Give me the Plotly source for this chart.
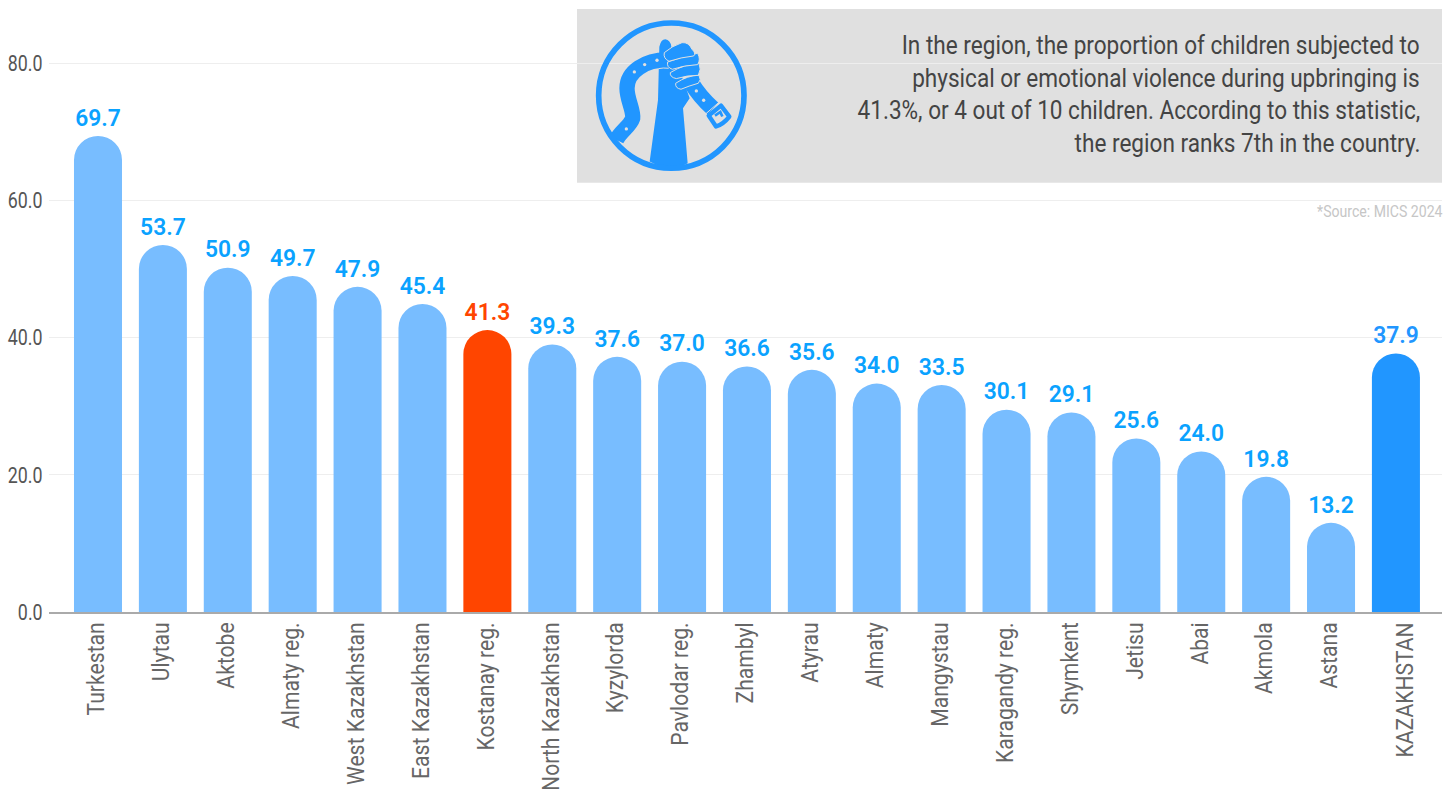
import base64
import plotly.graph_objects as go

categories = ["Turkestan", "Ulytau", "Aktobe", "Almaty reg.", "West Kazakhstan", "East Kazakhstan",
              "Kostanay reg.", "North Kazakhstan", "Kyzylorda", "Pavlodar reg.", "Zhambyl", "Atyrau",
              "Almaty", "Mangystau", "Karagandy reg.", "Shymkent", "Jetisu", "Abai", "Akmola", "Astana",
              "KAZAKHSTAN"]
value_labels = [69.7, 53.7, 50.9, 49.7, 47.9, 45.4, 41.3, 39.3, 37.6, 37.0, 36.6, 35.6, 34.0, 33.5, 30.1,
                29.1, 25.6, 24.0, 19.8, 13.2, 37.9]
# bar heights as drawn in the picture (they sit slightly under their printed labels)
bar_heights = [69.4, 53.5, 50.2, 49.0, 47.4, 44.9, 41.1, 39.0, 37.2, 36.5, 35.8, 35.3, 33.3, 33.1, 29.5,
               29.1, 25.3, 23.4, 19.7, 13.0, 37.7]
y_ticks = [0, 20, 40, 60, 80]
note_lines = ["In the region, the proportion of children subjected to",
              "physical or emotional violence during upbringing is",
              "41.3%, or 4 out of 10 children. According to this statistic,",
              "the region ranks 7th in the country."]
source_text = "*Source: MICS 2024"

BLUE = "#78BDFF"; RED = "#FF4500"; DARK = "#2196FF"; LABEL = "#0AA2FF"
FONT = "Roboto"
bar_colors = [RED if c.startswith("Kostanay") else DARK if c == "KAZAKHSTAN" else BLUE for c in categories]
text_colors = [RED if c.startswith("Kostanay") else DARK if c == "KAZAKHSTAN" else LABEL for c in categories]

W, H = 1450, 789
L, R, B = 49, 1442, 612.5
px = lambda x: (x - L) / (R - L)
py = lambda y: (B - y) / B

G = "#E0E0E0"
icon = f'''<svg xmlns="http://www.w3.org/2000/svg" viewBox="0 0 720 570" width="720" height="570">
<path d="M218 485L243 300L247 140Q252 118 265 118Q280 120 283 140L338 295L318 325L332 490Q280 520 218 485Z" fill="{DARK}"/>
<path d="M275 180C205 178 150 215 150 265C150 300 170 330 167 355C160 378 130 395 118 420" fill="none" stroke="{DARK}" stroke-width="46"/>
<path d="M245 206Q258 203 275 205" fill="none" stroke="{G}" stroke-width="3"/>
<path d="M342 247Q368 290 408 326" fill="none" stroke="{DARK}" stroke-width="48"/>
<path d="M386 342L426 307" fill="none" stroke="{G}" stroke-width="3"/>
<g fill="{DARK}" stroke="{G}" stroke-width="3">
<path d="M296 250Q332 226 366 226Q374 240 364 250Q335 258 312 268Q294 265 296 250Z"/>
<path d="M280 218Q322 192 366 190Q374 208 364 226Q330 226 298 236Q278 232 280 218Z"/>
<path d="M272 186Q320 168 362 160Q372 178 362 194Q322 196 286 208Q268 202 272 186Z"/>
<path d="M262 158Q285 138 315 128Q335 126 345 148Q358 160 350 168Q312 172 276 184Q258 175 262 158Z"/>
</g>
<g fill="{G}"><circle cx="172" cy="216" r="5"/><circle cx="203" cy="194" r="5"/><circle cx="240" cy="181" r="5"/>
<circle cx="148" cy="387" r="5"/><circle cx="358" cy="273" r="5"/><circle cx="380" cy="301" r="5"/></g>
<path d="M395 347L432 317L457 350Q440 372 417 380Z" fill="{G}" stroke="{DARK}" stroke-width="13" stroke-linejoin="round"/>
<path d="M414 347L430 336L436 350" fill="none" stroke="{DARK}" stroke-width="8"/>
<circle cx="283" cy="287" r="218" fill="none" stroke="{DARK}" stroke-width="17"/>
</svg>'''
icon_src = "data:image/svg+xml;base64," + base64.b64encode(icon.encode()).decode()

fig = go.Figure(go.Bar(
    x=categories, y=bar_heights, width=0.74, marker=dict(color=bar_colors, line_width=0),
    text=[f"{v:.1f}" for v in value_labels], textposition="outside", cliponaxis=False,
    textfont=dict(family=FONT, size=28, color=text_colors, weight=600), textangle=0,
))

shapes = [dict(type="rect", xref="paper", yref="paper", x0=px(577), x1=px(1442), y0=py(183), y1=py(9),
               fillcolor=G, line_width=0, layer="between")]
annotations = []
for line, yp in zip(note_lines, [45, 78, 110, 143]):
    annotations.append(dict(text=line, xref="paper", yref="paper", x=px(1421.5), y=py(yp), xanchor="right",
                            yanchor="middle", showarrow=False, font=dict(family=FONT, size=26, color="#444444")))
annotations.append(dict(text=source_text, xref="paper", yref="paper", x=px(1443.5), y=py(212), xanchor="right",
                        yanchor="middle", showarrow=False, font=dict(family=FONT, size=16, color="#C6C6C6")))

fig.update_layout(
    width=W, height=H, autosize=False, margin=dict(l=L, r=W - R, t=0, b=H - B, pad=0),
    paper_bgcolor="white", plot_bgcolor="white", showlegend=False, barcornerradius=24,
    shapes=shapes, annotations=annotations,
    images=[dict(source=icon_src, xref="paper", yref="paper", x=px(577), y=py(0), sizex=240 / (R - L),
                 sizey=190 / B, xanchor="left", yanchor="top", sizing="stretch", layer="above")],
    xaxis=dict(type="category", range=[-0.755, 20.71], tickangle=-90, showgrid=False, showline=True,
               linecolor="#AAAAAA", linewidth=1.5, ticks="outside", ticklen=0, tickcolor="rgba(0,0,0,0)",
               tickfont=dict(family=FONT, size=24, color="#666666"), automargin=False),
    yaxis=dict(range=[0, B / 6.865], tickvals=y_ticks, tickformat=".1f", showgrid=True, gridcolor="#EEEEEE",
               gridwidth=1, zeroline=False, ticks="outside", ticklen=1, tickcolor="rgba(0,0,0,0)",
               tickfont=dict(family=FONT, size=22, color="#555555"), automargin=False),
)
# Roboto Condensed is not installed: narrow the installed Roboto, keeping every label as real text.
squeeze = """
document.body.style.margin='0';
function narrow(t,f){var w=t.getComputedTextLength();t.setAttribute('lengthAdjust','spacingAndGlyphs');
  t.setAttribute('textLength',w*f);return w;}
document.querySelectorAll('.xtick text').forEach(function(t){narrow(t,0.88);
  var d=t.textContent==='KAZAKHSTAN'?9.5:-1.5;
  t.setAttribute('x',parseFloat(t.getAttribute('x'))+1);t.setAttribute('y',parseFloat(t.getAttribute('y'))+d);});
document.querySelectorAll('.ytick text').forEach(function(t){narrow(t,0.81);});
document.querySelectorAll('.bartext').forEach(function(t){narrow(t,0.95);
  t.setAttribute('y',parseFloat(t.getAttribute('y')||0)-1.5);});
document.querySelectorAll('.annotation-text').forEach(function(t){
  var f=t.textContent.indexOf('Source')<0?0.868:0.88;var w=narrow(t,f);
  t.setAttribute('x',parseFloat(t.getAttribute('x')||0)+w*(1-f)/2);t.removeAttribute('clip-path');
  if(t.parentNode){t.parentNode.removeAttribute('clip-path');}});
"""
fig.write_html("out.html", config={"displayModeBar": False}, post_script=squeeze)
